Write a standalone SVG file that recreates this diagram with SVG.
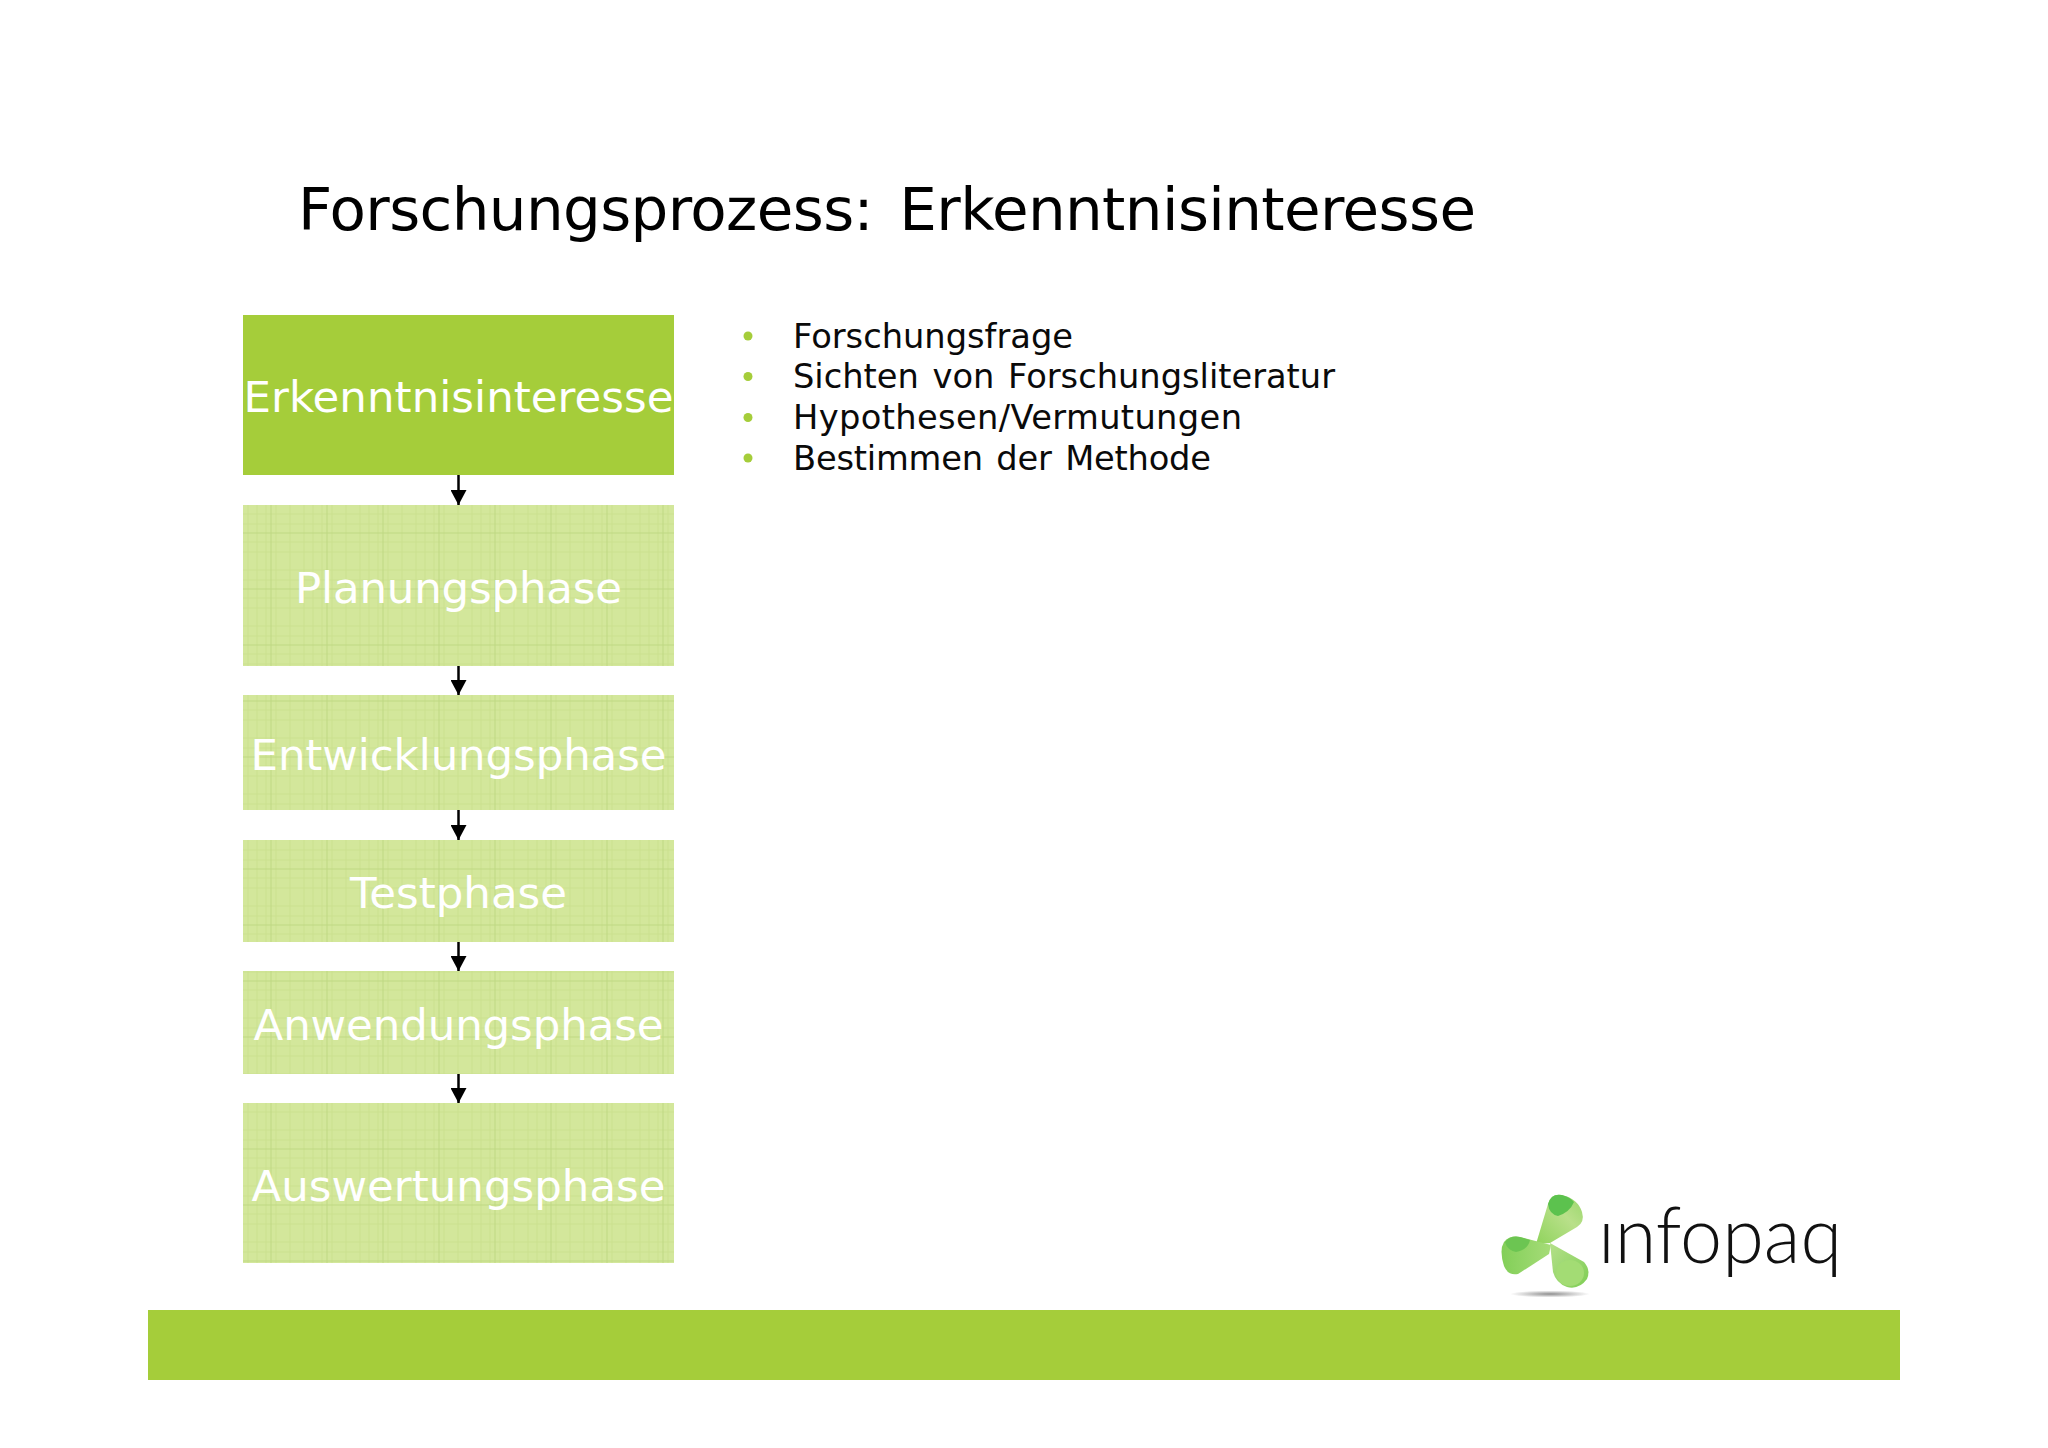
<svg xmlns="http://www.w3.org/2000/svg" width="2048" height="1448" viewBox="0 0 2048 1448">
<style>
text{font-family:"DejaVu Sans","Liberation Sans",sans-serif}
.lbl{font-size:43.500px;fill:#fff;text-anchor:middle}
.bul{font-size:33.700px;fill:#0a0a0a;word-spacing:3px}
.dot{fill:#a5cd3a}
.soft{fill:url(#grid)}
.conn{stroke:#000;stroke-width:2.5;fill:none;marker-end:url(#arr)}
</style>
<defs>
<pattern id="grid" patternUnits="userSpaceOnUse" x="243" y="505" width="56" height="56">
<rect width="56" height="56" fill="#d3e79b"/>
<path d="M5 0V56M14 0V56M23 0V56M33 0V56M47 0V56M0 9H56M0 19H56M0 37H56M0 47H56" stroke="#cbe190" stroke-width="1"/>
<path d="M28 0V56M0 28H56" stroke="#c0d984" stroke-width="1"/>
</pattern>
<marker id="arr" markerUnits="userSpaceOnUse" markerWidth="16" markerHeight="16" refX="15" refY="8" orient="auto"><path d="M0 0L15 8L0 16Z" fill="#000"/></marker>
<linearGradient id="lt" x1="0" y1="1" x2="1" y2="0"><stop offset="0" stop-color="#8fd35c"/><stop offset=".6" stop-color="#b9e08a"/><stop offset="1" stop-color="#98d66a"/></linearGradient>
<linearGradient id="ll" x1="1" y1="0.500" x2="0" y2="0.500"><stop offset="0" stop-color="#a6dc78"/><stop offset="1" stop-color="#82cf58"/></linearGradient>
<linearGradient id="lr" x1="0" y1="0" x2="1" y2="1"><stop offset="0" stop-color="#b5e08a"/><stop offset="1" stop-color="#7fce55"/></linearGradient>
<radialGradient id="shadow"><stop offset="0" stop-color="#8f8f8f"/><stop offset="1" stop-color="#fff"/></radialGradient>
<clipPath id="nodot"><path d="M1612 1195H1860V1290H1590V1221H1612Z"/></clipPath>
</defs>
<rect width="2048" height="1448" fill="#fff"/>
<text id="title" x="298" y="230" font-size="59.500" style="word-spacing:8px" fill="#000" textLength="1178" lengthAdjust="spacing">Forschungsprozess: Erkenntnisinteresse</text>
<g id="connectors">
<path class="conn" d="M458.500 475V505"/>
<path class="conn" d="M458.500 666V695"/>
<path class="conn" d="M458.500 810V840"/>
<path class="conn" d="M458.500 942V971"/>
<path class="conn" d="M458.500 1074V1103"/>
</g>
<g id="n1"><rect x="243" y="315" width="431" height="160" fill="#a5cd3a"/><text class="lbl" x="458.500" y="412" textLength="430">Erkenntnisinteresse</text></g>
<g id="n2"><rect class="soft" x="243" y="505" width="431" height="161"/><text class="lbl" x="458.500" y="603" textLength="327">Planungsphase</text></g>
<g id="n3"><rect class="soft" x="243" y="695" width="431" height="115"/><text class="lbl" x="458.500" y="770" textLength="416">Entwicklungsphase</text></g>
<g id="n4"><rect class="soft" x="243" y="840" width="431" height="102"/><text class="lbl" x="458.500" y="908" textLength="217">Testphase</text></g>
<g id="n5"><rect class="soft" x="243" y="971" width="431" height="103"/><text class="lbl" x="458.500" y="1040" textLength="410">Anwendungsphase</text></g>
<g id="n6"><rect class="soft" x="243" y="1103" width="431" height="160"/><text class="lbl" x="458.500" y="1201" textLength="414">Auswertungsphase</text></g>
<g id="bullets">
<circle class="dot" cx="748" cy="336" r="4.500"/><text class="bul" x="793" y="347.500" textLength="280">Forschungsfrage</text>
<circle class="dot" cx="748" cy="376.500" r="4.500"/><text class="bul" x="793" y="388" textLength="542">Sichten von Forschungsliteratur</text>
<circle class="dot" cx="748" cy="417.500" r="4.500"/><text class="bul" x="793" y="429" textLength="449">Hypothesen/Vermutungen</text>
<circle class="dot" cx="748" cy="458" r="4.500"/><text class="bul" x="793" y="470" textLength="418">Bestimmen der Methode</text>
</g>
<g id="logo">
<ellipse cx="1550" cy="1294" rx="40" ry="3.500" fill="url(#shadow)"/>
<path d="M1536 1244L1548 1204Q1551 1193 1562 1195Q1578 1199 1582 1212Q1585 1222 1577 1227L1550 1243Z" fill="url(#lt)"/>
<path d="M1548 1204Q1551 1193 1562 1195Q1570 1197 1574 1202Q1570 1212 1558 1216Q1549 1214 1548 1204Z" fill="#5cc24e"/>
<path d="M1551 1245L1549 1254L1518 1274Q1508 1276 1504 1266Q1499 1250 1504 1242Q1510 1235 1520 1237Z" fill="url(#ll)"/>
<path d="M1505 1242Q1511 1235 1520 1237L1530 1240Q1528 1250 1516 1252Q1507 1250 1505 1242Z" fill="#6cc552"/>
<path d="M1550 1243L1584 1262Q1591 1270 1587 1279Q1579 1290 1567 1287Q1556 1283 1553 1272Z" fill="url(#lr)"/>
<ellipse cx="1570" cy="1273" rx="14" ry="13" fill="#a3dc74"/>
<text x="1598" y="1263" font-size="79" fill="#111" clip-path="url(#nodot)" style="font-family:Lato,'Open Sans',sans-serif;font-weight:300" textLength="244" lengthAdjust="spacingAndGlyphs">infopaq</text>
</g>
<rect id="footer-bar" x="148" y="1310" width="1752" height="70" fill="#a5cd3a"/>
</svg>
